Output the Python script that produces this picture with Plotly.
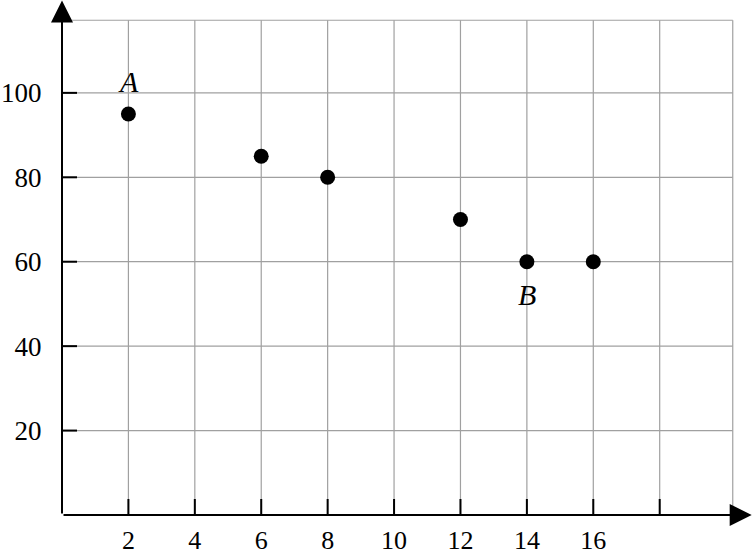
import plotly.graph_objects as go

# data points
x_vals = [2, 6, 8, 12, 14, 16]
y_vals = [95, 85, 80, 70, 60, 60]

x_ticks = [2, 4, 6, 8, 10, 12, 14, 16, 18]
x_labels = ["2", "4", "6", "8", "10", "12", "14", "16", ""]
y_ticks = [20, 40, 60, 80, 100]
y_labels = ["20", "40", "60", "80", "100"]

point_names = ["A", "B"]
name_x = [2, 14]
name_y = [102.8, 52.2]

grid_right = 20.2
grid_top = 117.2
x_max = 20.87
y_max = 122

serif = "Liberation Serif"
grid_col = "#a0a0a0"

fig = go.Figure()

fig.add_trace(go.Scatter(x=x_vals, y=y_vals, mode="markers",
                         marker=dict(size=15, color="black"),
                         cliponaxis=False, showlegend=False))

shapes = []
# grid (only inside the box that stops before the arrows)
for xv in x_ticks:
    shapes.append(dict(type="line", x0=xv, x1=xv, y0=0, y1=grid_top,
                       xref="x", yref="y", layer="below",
                       line=dict(color=grid_col, width=1.2)))
shapes.append(dict(type="line", x0=grid_right, x1=grid_right, y0=0, y1=grid_top,
                   xref="x", yref="y", layer="below",
                   line=dict(color=grid_col, width=1.2)))
for yv in y_ticks:
    shapes.append(dict(type="line", x0=0, x1=grid_right, y0=yv, y1=yv,
                       xref="x", yref="y", layer="below",
                       line=dict(color=grid_col, width=1.2)))
shapes.append(dict(type="line", x0=0, x1=grid_right, y0=grid_top, y1=grid_top,
                   xref="x", yref="y", layer="below",
                   line=dict(color=grid_col, width=1.2)))

# tick marks crossing the axes
for xv in x_ticks:
    shapes.append(dict(type="line", xref="x", yref="y", ysizemode="pixel",
                       yanchor=0, x0=xv, x1=xv, y0=-13, y1=16,
                       line=dict(color="black", width=2)))
for yv in y_ticks:
    shapes.append(dict(type="line", xref="x", yref="y", xsizemode="pixel",
                       xanchor=0, y0=yv, y1=yv, x0=-15, x1=15,
                       line=dict(color="black", width=2)))

annotations = []
# axes with arrow heads
annotations.append(dict(x=x_max - 0.1, y=0, ax=0, ay=0, xref="x", yref="y",
                        axref="x", ayref="y", text="", showarrow=True,
                        arrowhead=2, arrowsize=2.2, arrowwidth=2,
                        arrowcolor="black"))
annotations.append(dict(x=0, y=y_max - 0.1, ax=0, ay=0, xref="x", yref="y",
                        axref="x", ayref="y", text="", showarrow=True,
                        arrowhead=2, arrowsize=2.2, arrowwidth=2,
                        arrowcolor="black"))
for nm, nx, ny in zip(point_names, name_x, name_y):
    annotations.append(dict(x=nx, y=ny, text="<i>" + nm + "</i>", showarrow=False,
                            font=dict(family=serif, size=30, color="black")))

fig.update_layout(
    width=755, height=557,
    margin=dict(l=62, r=0, t=0, b=42),
    plot_bgcolor="white", paper_bgcolor="white",
    shapes=shapes, annotations=annotations,
    xaxis=dict(range=[0, x_max], tickvals=x_ticks, ticktext=x_labels,
               showgrid=False, zeroline=False, showline=False, automargin=False,
               ticks="outside", ticklen=2, tickwidth=2, tickcolor="rgba(0,0,0,0)",
               tickfont=dict(family=serif, size=26, color="black")),
    yaxis=dict(range=[0, y_max], tickvals=y_ticks, ticktext=y_labels,
               showgrid=False, zeroline=False, showline=False, automargin=False,
               ticks="outside", ticklen=14, tickwidth=2, tickcolor="rgba(0,0,0,0)",
               tickfont=dict(family=serif, size=27, color="black")),
)

# page body has a default 8px margin, drop it so the figure sits at the corner
fig.write_html("out.html", config={"displayModeBar": False},
               post_script="document.body.style.margin='0';")
